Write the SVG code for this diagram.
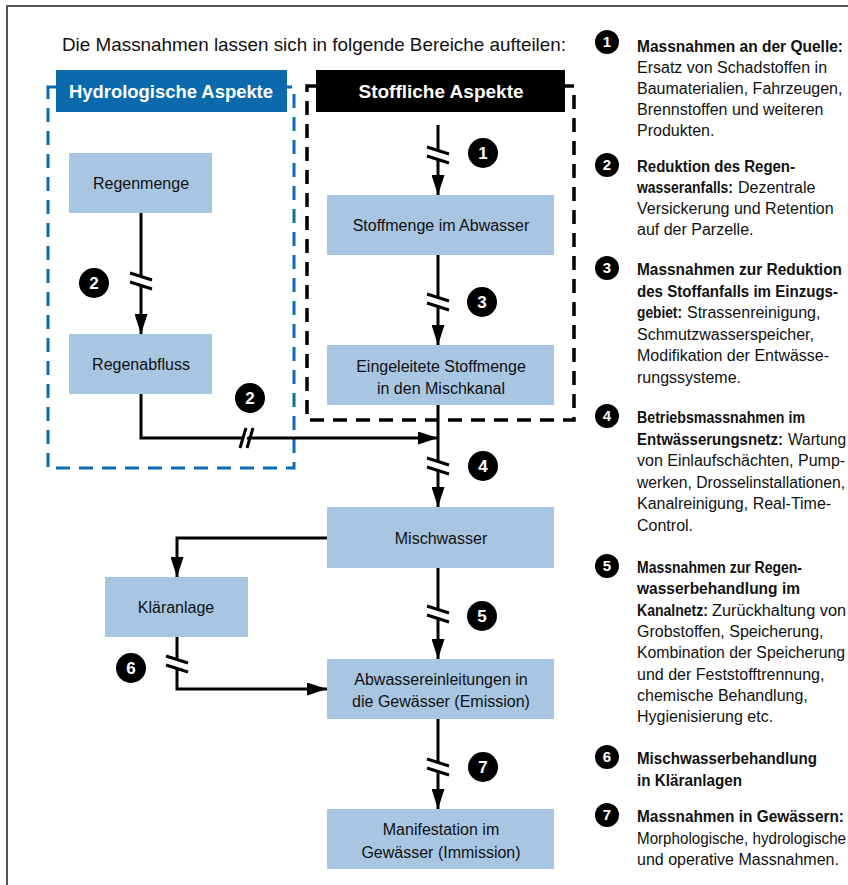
<svg xmlns="http://www.w3.org/2000/svg" width="848" height="885" viewBox="0 0 848 885">
<style>
text{font-family:"Liberation Sans","Open Sans",sans-serif;fill:#111}
.box{fill:#a8c5e2}
.bl{font-size:16px;text-anchor:middle}
.hd{font-size:19px;font-weight:bold;fill:#fff;text-anchor:middle}
.cn{fill:none;stroke:#000;stroke-width:3}
.lg text{font-size:16px}
.b{font-weight:bold}
.bn{font-weight:bold;fill:#fff;text-anchor:middle}
.lg .bn{font-size:15px}
</style>
<defs>
<marker id="ah" viewBox="0 0 20 13" refX="20" refY="6.5" markerWidth="20" markerHeight="13" markerUnits="userSpaceOnUse" orient="auto"><path d="M0,0 L20,6.5 L0,13 Z" fill="#000"/></marker>
<g id="bv"><polygon points="-11,-8 11,-1 11,8 -11,1" fill="#fff"/><line x1="-11" y1="-8" x2="11" y2="-1" stroke="#000" stroke-width="3"/><line x1="-11" y1="1" x2="11" y2="8" stroke="#000" stroke-width="3"/></g>
<g id="bh"><polygon points="-8,10 -2,-10 2,-10 -4,10" fill="#fff"/><line x1="-8" y1="10" x2="-2" y2="-10" stroke="#000" stroke-width="3"/><line x1="-1" y1="10" x2="5" y2="-10" stroke="#000" stroke-width="3"/></g>
</defs>
<rect width="848" height="885" fill="#fff"/>
<path d="M7,885 V6 H848" fill="none" stroke="#555" stroke-width="2"/>
<text x="62" y="51" style="font-size:19px" textLength="504" lengthAdjust="spacingAndGlyphs">Die Massnahmen lassen sich in folgende Bereiche aufteilen:</text>

<g id="hydro-group">
<rect x="48" y="87" width="246" height="381" fill="none" stroke="#0a6db0" stroke-width="3" stroke-dasharray="14 9"/>
<rect x="56" y="70" width="231" height="42" fill="#0a6aab"/>
<text class="hd" x="171" y="98" textLength="204" lengthAdjust="spacingAndGlyphs">Hydrologische Aspekte</text>
</g>
<g id="stoff-group">
<rect x="307" y="86" width="267" height="334" fill="none" stroke="#000" stroke-width="3.5" stroke-dasharray="14 9"/>
<rect x="316" y="70" width="249" height="42" fill="#000"/>
<text class="hd" x="441" y="98">Stoffliche Aspekte</text>
</g>

<g id="connectors">
<path class="cn" d="M438,125 V195" marker-end="url(#ah)"/>
<path class="cn" d="M141,213 V334" marker-end="url(#ah)"/>
<path class="cn" d="M438,255 V345" marker-end="url(#ah)"/>
<path class="cn" d="M141,394 V438 H438" marker-end="url(#ah)"/>
<path class="cn" d="M438,405 V507" marker-end="url(#ah)"/>
<path class="cn" d="M327,538 H177 V577" marker-end="url(#ah)"/>
<path class="cn" d="M438,568 V659" marker-end="url(#ah)"/>
<path class="cn" d="M177,637 V689 H327" marker-end="url(#ah)"/>
<path class="cn" d="M438,719 V809" marker-end="url(#ah)"/>
<use href="#bv" x="438" y="155"/>
<use href="#bv" x="141" y="281"/>
<use href="#bv" x="438" y="302"/>
<use href="#bv" x="438" y="466"/>
<use href="#bv" x="438" y="614"/>
<use href="#bv" x="177" y="664"/>
<use href="#bv" x="438" y="767"/>
<use href="#bh" x="248" y="438"/>
</g>

<g id="n-regenmenge"><rect class="box" x="69" y="153" width="143" height="60"/><text class="bl" x="141" y="189">Regenmenge</text></g>
<g id="n-regenabfluss"><rect class="box" x="69" y="334" width="143" height="60"/><text class="bl" x="141" y="370">Regenabfluss</text></g>
<g id="n-stoffmenge"><rect class="box" x="327" y="195" width="227" height="60"/><text class="bl" x="441" y="231">Stoffmenge im Abwasser</text></g>
<g id="n-eingeleitet"><rect class="box" x="327" y="345" width="227" height="60"/><text class="bl" x="441" y="372">Eingeleitete Stoffmenge</text><text class="bl" x="441" y="394">in den Mischkanal</text></g>
<g id="n-mischwasser"><rect class="box" x="327" y="507" width="227" height="61"/><text class="bl" x="441" y="544">Mischwasser</text></g>
<g id="n-klaeranlage"><rect class="box" x="105" y="577" width="143" height="60"/><text class="bl" x="176" y="613">Kläranlage</text></g>
<g id="n-emission"><rect class="box" x="327" y="659" width="227" height="60"/><text class="bl" x="441" y="685">Abwassereinleitungen in</text><text class="bl" x="441" y="707">die Gewässer (Emission)</text></g>
<g id="n-immission"><rect class="box" x="327" y="809" width="227" height="60"/><text class="bl" x="441" y="835">Manifestation im</text><text class="bl" x="441" y="858">Gewässer (Immission)</text></g>

<g id="badges" style="font-size:17px">
<g id="badge-1"><circle cx="483" cy="153" r="15"/><text class="bn" x="483" y="159">1</text></g>
<g id="badge-2a"><circle cx="94" cy="283" r="15"/><text class="bn" x="94" y="289">2</text></g>
<g id="badge-2b"><circle cx="250" cy="398" r="15"/><text class="bn" x="250" y="404">2</text></g>
<g id="badge-3"><circle cx="482" cy="302" r="15"/><text class="bn" x="482" y="308">3</text></g>
<g id="badge-4"><circle cx="483" cy="466" r="15"/><text class="bn" x="483" y="472">4</text></g>
<g id="badge-5"><circle cx="482" cy="616" r="15"/><text class="bn" x="482" y="622">5</text></g>
<g id="badge-6"><circle cx="131" cy="668" r="15"/><text class="bn" x="131" y="674">6</text></g>
<g id="badge-7"><circle cx="483" cy="767" r="15"/><text class="bn" x="483" y="773">7</text></g>
</g>

<g id="legend" class="lg">
<g id="leg-1"><circle cx="607" cy="42" r="12"/><text class="bn" x="607" y="47">1</text>
<text class="b" x="637" y="52" textLength="206" lengthAdjust="spacingAndGlyphs">Massnahmen an der Quelle:</text>
<text x="637" y="73">Ersatz von Schadstoffen in</text>
<text x="637" y="94">Baumaterialien, Fahrzeugen,</text>
<text x="637" y="115">Brennstoffen und weiteren</text>
<text x="637" y="136">Produkten.</text></g>
<g id="leg-2"><circle cx="607" cy="165" r="12"/><text class="bn" x="607" y="170">2</text>
<text class="b" x="637" y="172" textLength="158" lengthAdjust="spacingAndGlyphs">Reduktion des Regen-</text>
<text class="b" x="637" y="193" textLength="96" lengthAdjust="spacingAndGlyphs">wasseranfalls:</text><text x="738" y="193">Dezentrale</text>
<text x="637" y="214">Versickerung und Retention</text>
<text x="637" y="235">auf der Parzelle.</text></g>
<g id="leg-3"><circle cx="607" cy="268" r="12"/><text class="bn" x="607" y="273">3</text>
<text class="b" x="637" y="275" textLength="205" lengthAdjust="spacingAndGlyphs">Massnahmen zur Reduktion</text>
<text class="b" x="637" y="296.5" textLength="201" lengthAdjust="spacingAndGlyphs">des Stoffanfalls im Einzugs-</text>
<text class="b" x="637" y="318" textLength="45" lengthAdjust="spacingAndGlyphs">gebiet:</text><text x="687" y="318">Strassenreinigung,</text>
<text x="637" y="339.5">Schmutzwasserspeicher,</text>
<text x="637" y="361">Modifikation der Entwässe-</text>
<text x="637" y="382.5">rungssysteme.</text></g>
<g id="leg-4"><circle cx="607" cy="416" r="12"/><text class="bn" x="607" y="421">4</text>
<text class="b" x="637" y="423" textLength="168" lengthAdjust="spacingAndGlyphs">Betriebsmassnahmen im</text>
<text class="b" x="637" y="444.5" textLength="146" lengthAdjust="spacingAndGlyphs">Entwässerungsnetz:</text><text x="788" y="444.5" textLength="58" lengthAdjust="spacingAndGlyphs">Wartung</text>
<text x="637" y="466">von Einlaufschächten, Pump-</text>
<text x="637" y="487.5" textLength="208" lengthAdjust="spacingAndGlyphs">werken, Drosselinstallationen,</text>
<text x="637" y="509">Kanalreinigung, Real-Time-</text>
<text x="637" y="530.5">Control.</text></g>
<g id="leg-5"><circle cx="607" cy="566" r="12"/><text class="bn" x="607" y="571">5</text>
<text class="b" x="637" y="573" textLength="165" lengthAdjust="spacingAndGlyphs">Massnahmen zur Regen-</text>
<text class="b" x="637" y="594.3" textLength="163" lengthAdjust="spacingAndGlyphs">wasserbehandlung im</text>
<text class="b" x="637" y="615.6" textLength="71" lengthAdjust="spacingAndGlyphs">Kanalnetz:</text><text x="712" y="615.6" textLength="134" lengthAdjust="spacingAndGlyphs">Zurückhaltung von</text>
<text x="637" y="636.9">Grobstoffen, Speicherung,</text>
<text x="637" y="658.2" textLength="208" lengthAdjust="spacingAndGlyphs">Kombination der Speicherung</text>
<text x="637" y="679.5">und der Feststofftrennung,</text>
<text x="637" y="700.8">chemische Behandlung,</text>
<text x="637" y="722.1">Hygienisierung etc.</text></g>
<g id="leg-6"><circle cx="607" cy="757" r="12"/><text class="bn" x="607" y="762">6</text>
<text class="b" x="637" y="764" textLength="180" lengthAdjust="spacingAndGlyphs">Mischwasserbehandlung</text>
<text class="b" x="637" y="785.5" textLength="105" lengthAdjust="spacingAndGlyphs">in Kläranlagen</text></g>
<g id="leg-7"><circle cx="607" cy="815" r="12"/><text class="bn" x="607" y="820">7</text>
<text class="b" x="637" y="822" textLength="207" lengthAdjust="spacingAndGlyphs">Massnahmen in Gewässern:</text>
<text x="637" y="843.5" textLength="209" lengthAdjust="spacingAndGlyphs">Morphologische, hydrologische</text>
<text x="637" y="865">und operative Massnahmen.</text></g>
</g>
</svg>
